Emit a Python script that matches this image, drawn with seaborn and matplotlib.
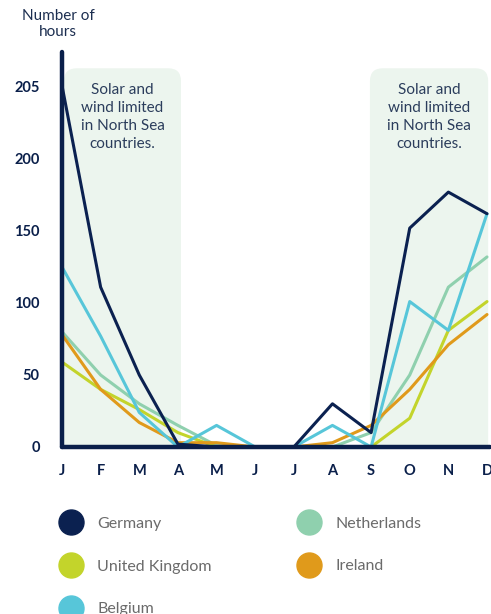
import pandas as pd
import seaborn as sns
import matplotlib.pyplot as plt
from matplotlib.patches import FancyBboxPatch
from matplotlib.lines import Line2D

months = ["J", "F", "M", "A", "M", "J", "J", "A", "S", "O", "N", "D"]
germany = [251, 111, 50, 2, 0, 0, 0, 30, 10, 152, 177, 162]
netherlands = [80, 50, 30, 15, 1, 0, 0, 0, 10, 50, 111, 132]
united_kingdom = [59, 40, 26, 10, 0, 0, 0, 0, 0, 20, 81, 101]
ireland = [78, 40, 17, 3, 3, 0, 0, 3, 15, 40, 71, 92]
belgium = [125, 77, 24, 0, 15, 0, 0, 15, 0, 101, 81, 162]

y_ticks = [0, 50, 100, 150, 200, 250]
y_tick_labels = ["0", "50", "100", "150", "200", "205"]
note = "Solar and\nwind limited\nin North Sea\ncountries."

colors = {
    "Germany": "#0B2150",
    "Netherlands": "#8FD0AE",
    "United Kingdom": "#C3D42B",
    "Ireland": "#E09A1B",
    "Belgium": "#57C6D9",
}
navy = "#0A1F4A"

series = {
    "Netherlands": netherlands,
    "United Kingdom": united_kingdom,
    "Ireland": ireland,
    "Belgium": belgium,
    "Germany": germany,
}
rows = []
for name, vals in series.items():
    for i, v in enumerate(vals):
        rows.append({"country": name, "month": i, "hours": v})
df = pd.DataFrame(rows)

sns.set_style("white")
plt.rcParams["font.family"] = ["Lato", "DejaVu Sans"]

fig = plt.figure(figsize=(4.91, 6.14), dpi=100)
ax = fig.add_axes([62 / 491, 1 - 447 / 614, 428 / 491, 395 / 614])

x_max = 11 + 3 / 38.64
y_max = 395 / 1.44
ax.set_xlim(0, x_max)
ax.set_ylim(0, y_max)

# shaded "limited" seasons with rounded tops
aspect = (1 / 1.44) / (1 / 38.64)
for x0, x1 in [(0.05, 3.08), (7.97, 11.03)]:
    box = FancyBboxPatch((x0, -40), x1 - x0, 263 + 40,
                         boxstyle="round,pad=0,rounding_size=0.33",
                         mutation_aspect=aspect, fc="#ECF5EE", ec="none",
                         zorder=0)
    ax.add_patch(box)
    ax.text((x0 + x1) / 2, 253, note, ha="center", va="top", fontsize=11,
            color="#2B3D5C", linespacing=1.36)

sns.lineplot(data=df, x="month", y="hours", hue="country",
             hue_order=list(series.keys()), palette=colors, linewidth=2.2,
             legend=False, ax=ax, zorder=3)

for s in ["top", "right"]:
    ax.spines[s].set_visible(False)
for s in ["left", "bottom"]:
    ax.spines[s].set_color(navy)
    ax.spines[s].set_linewidth(3.2)
    ax.spines[s].set_capstyle("round")
    ax.spines[s].set_zorder(4)

ax.set_xticks(range(12))
ax.set_xticklabels(months)
ax.set_yticks(y_ticks)
ax.set_yticklabels(y_tick_labels)
ax.tick_params(axis="x", length=3, width=0.8, color="#9AA3B5", pad=9,
               labelsize=10.5, labelcolor=navy)
ax.tick_params(axis="y", length=0, pad=16, labelsize=10.5, labelcolor=navy)
for lab in ax.get_xticklabels() + ax.get_yticklabels():
    lab.set_fontweight("bold")
ax.set_xlabel("")
ax.set_ylabel("")

fig.text(58 / 491, 1 - 24 / 614, "Number of\nhours", ha="center", va="center",
         fontsize=11, color="#1C2E50", linespacing=1.15)

legend_order = ["Germany", "United Kingdom", "Belgium", "Netherlands", "Ireland"]
handles = [Line2D([], [], ls="none", marker="o", markersize=18,
                  markerfacecolor=colors[n], markeredgecolor=colors[n])
           for n in legend_order]
leg = fig.legend(handles, legend_order, ncol=2, loc="upper left",
                 bbox_to_anchor=(52.5 / 491, 1 - 510 / 614), frameon=False,
                 fontsize=11.5, labelcolor="#6B6B6B", handlelength=1.5,
                 handletextpad=0.9, labelspacing=1.8, columnspacing=5.33,
                 borderaxespad=0)

fig.savefig("out.png", dpi=100)
